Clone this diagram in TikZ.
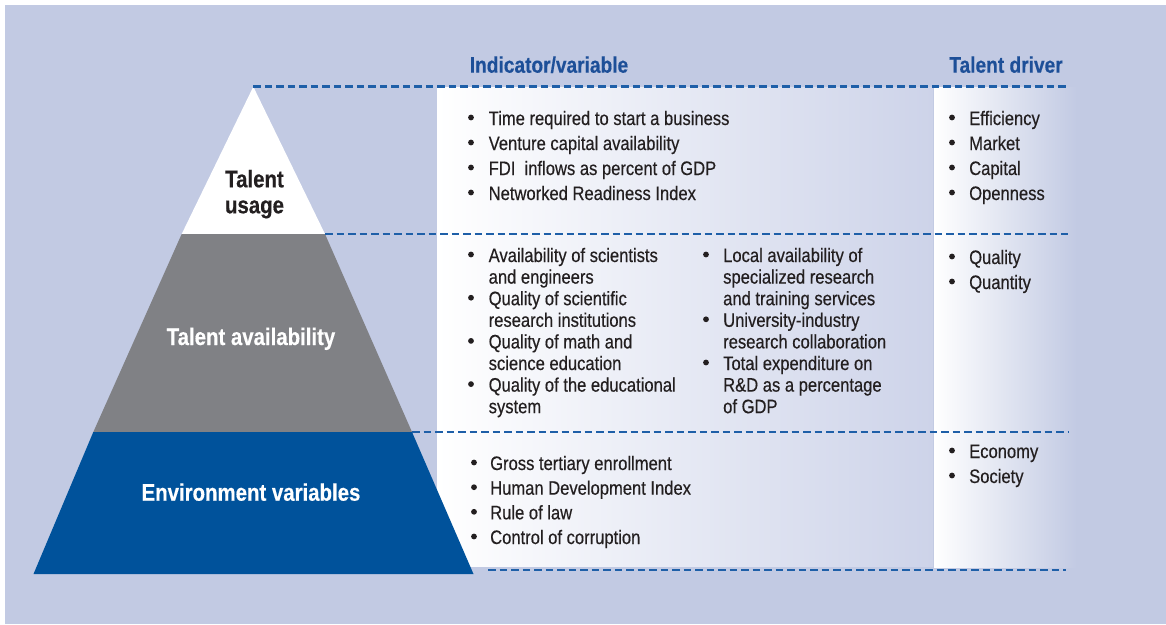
\documentclass[tikz,border=0pt]{standalone}
\usepackage{fontspec}
\newfontfamily\cf{Liberation Sans}[FakeStretch=0.85, FakeBold=0.4]
\definecolor{bgblue}{HTML}{C2CAE3}
\definecolor{panelend}{HTML}{CDD3E9}
\definecolor{sepblue}{HTML}{1E5FA8}
\definecolor{headblue}{HTML}{1D4F98}
\definecolor{pyrgray}{HTML}{808185}
\definecolor{pyrblue}{HTML}{00529B}
\definecolor{textdark}{HTML}{231F20}
\tikzset{
  sepline/.style={draw=sepblue, line width=2.6pt, dash pattern=on 7.5pt off 4pt},
  btext/.style={inner sep=0pt, text=textdark, font=\cf\fontsize{19.5}{21.6}\selectfont},
  bdot/.style={circle, inner sep=0pt, minimum size=5.8pt, fill=textdark},
  header/.style={inner sep=0pt, text=headblue, font=\cf\bfseries\fontsize{22.5}{26}\selectfont},
  pyrlabel/.style={inner sep=0pt, font=\cf\bfseries\fontsize{24}{26}\selectfont},
}
\newcommand\bitem[5]{%
  \node[btext, anchor=base west] (#1) at (#3,#4) {\parbox[t]{300pt}{\raggedright #5}};
  \node[bdot] (#1-b) at (#2,#4-7.5) {};
}
\begin{document}
\begin{tikzpicture}[x=1pt,y=-1pt]
\useasboundingbox (0,0) rectangle (1166,624);
\fill[white] (0,0) rectangle (1166,624);
\fill[bgblue] (5,5) rectangle (1166,624);

% panels
\shade[left color=white, right color=panelend] (437,87) rectangle (933,566);
\shade[left color=white, right color=bgblue] (934,87) rectangle (1077,567);

% pyramid corners
\coordinate (apex) at (253.3,86.7);
\coordinate (ul) at (181.7,234);
\coordinate (ur) at (325,234);
\coordinate (al) at (93.3,432);
\coordinate (ar) at (412,432);
\coordinate (bl) at (33.5,574);
\coordinate (br) at (473.5,574);

\fill[white] (apex) -- (ur) -- (ul) -- cycle;
\fill[pyrgray] (ul) -- (ur) -- (ar) -- (al) -- cycle;
\fill[pyrblue] (al) -- (ar) -- (br) -- (bl) -- cycle;

% separator lines
\coordinate (d1e) at (1068,86.7);
\coordinate (d2e) at (1068,234);
\coordinate (d3e) at (1068,432);
\coordinate (d4s) at (488,570);
\coordinate (d4e) at (1066,570);
\draw[sepline] (apex) -- (d1e);
\draw[sepline] (ur) -- (d2e);
\draw[sepline] (ar) -- (d3e);
\draw[sepline] (d4s) -- (d4e);

% headers
\node[header, anchor=base] (hind) at (549,72.7) {Indicator/variable};
\node[header, anchor=base] (hdrv) at (1006,72.7) {Talent driver};

% pyramid labels
\node[pyrlabel, text=textdark, anchor=base] (usage) at (254.5,187.3) {\parbox[t]{120pt}{\centering Talent\\usage}};
\node[pyrlabel, text=white, anchor=base] (avail) at (251,345) {Talent availability};
\node[pyrlabel, text=white, anchor=base] (env) at (251,500.7) {Environment variables};

% section 1
\bitem{s1a}{471}{488.5}{125}{Time required to start a business}
\bitem{s1b}{471}{488.5}{150}{Venture capital availability}
\bitem{s1c}{471}{488.5}{175}{FDI\ \ inflows as percent of GDP}
\bitem{s1d}{471}{488.5}{200}{Networked Readiness Index}

% section 2 left
\bitem{s2a}{471}{488.5}{262}{Availability of scientists\\and engineers}
\bitem{s2b}{471}{488.5}{305.2}{Quality of scientific\\research institutions}
\bitem{s2c}{471}{488.5}{348.4}{Quality of math and\\science education}
\bitem{s2d}{471}{488.5}{391.6}{Quality of the educational\\system}
% section 2 right
\bitem{s2e}{706}{723}{262}{Local availability of\\specialized research\\and training services}
\bitem{s2f}{706}{723}{326.8}{University-industry\\research collaboration}
\bitem{s2g}{706}{723}{370}{Total expenditure on\\R\&D as a percentage\\of GDP}

% section 3
\bitem{s3a}{474}{490}{470}{Gross tertiary enrollment}
\bitem{s3b}{474}{490}{494.7}{Human Development Index}
\bitem{s3c}{474}{490}{519.3}{Rule of law}
\bitem{s3d}{474}{490}{544}{Control of corruption}

% drivers
\bitem{t1a}{952}{969}{125}{Efficiency}
\bitem{t1b}{952}{969}{150}{Market}
\bitem{t1c}{952}{969}{175}{Capital}
\bitem{t1d}{952}{969}{200}{Openness}
\bitem{t2a}{952}{969}{264}{Quality}
\bitem{t2b}{952}{969}{289}{Quantity}
\bitem{t3a}{952}{969}{458}{Economy}
\bitem{t3b}{952}{969}{483}{Society}
\end{tikzpicture}
\end{document}
